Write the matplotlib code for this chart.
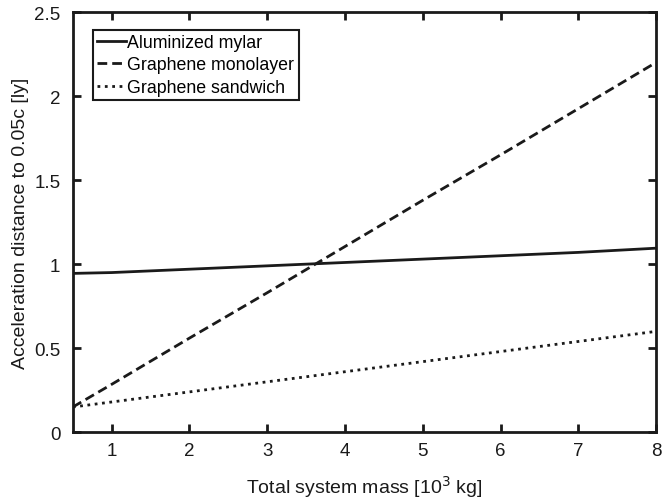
import matplotlib
matplotlib.use('Agg')
import matplotlib.pyplot as plt
import numpy as np

plt.rcParams['font.family'] = ['Liberation Sans', 'DejaVu Sans']

# masse totale [10^3 kg]
mass = [0.5, 1, 2, 3, 4, 5, 6, 7, 8]
mylar = [0.945, 0.95, 0.97, 0.99, 1.01, 1.03, 1.05, 1.07, 1.095]
mono = [0.15, 0.285, 0.56, 0.83, 1.105, 1.38, 1.65, 1.925, 2.2]
sandwich = [0.15, 0.18, 0.24, 0.30, 0.36, 0.42, 0.48, 0.54, 0.60]

xticks = [1, 2, 3, 4, 5, 6, 7, 8]
yticks = [0, 0.5, 1, 1.5, 2, 2.5]
ytick_labels = ['0', '0.5', '1', '1.5', '2', '2.5']

fig = plt.figure(figsize=(6.62, 5.02), dpi=100)
ax = fig.add_axes([0.110, 0.137, 0.881, 0.837])

ax.plot(mass, mylar, '-', color='#1a1a1a', linewidth=2, label='Aluminized mylar')
ax.plot(mass, mono, '--', color='#1a1a1a', linewidth=2, dashes=(3.5, 1.8), label='Graphene monolayer')
ax.plot(mass, sandwich, ':', color='#1a1a1a', linewidth=2, label='Graphene sandwich')

ax.set_xlim(0.5, 8)
ax.set_ylim(0, 2.5)
ax.set_xticks(xticks)
ax.set_yticks(yticks)
ax.set_yticklabels(ytick_labels)
ax.tick_params(direction='in', length=6, width=2, labelsize=13.5,
               top=True, right=True, colors='#1a1a1a')
ax.tick_params(axis='x', pad=7)
ax.tick_params(axis='y', pad=9)
for s in ax.spines.values():
    s.set_linewidth(2)
    s.set_color('#1a1a1a')

ax.set_xlabel('Total system mass [10$^3$ kg]', fontsize=14, color='#1a1a1a', labelpad=10)
ax.set_ylabel('Acceleration distance to 0.05c [ly]', fontsize=14, color='#1a1a1a', labelpad=4)

leg = ax.legend(loc='upper left', bbox_to_anchor=(0.034, 0.958), fontsize=12.8,
                handlelength=1.6, handletextpad=0.1, borderpad=0.25,
                labelspacing=0.3, borderaxespad=0, fancybox=False, framealpha=1)
leg.get_frame().set_edgecolor('#1a1a1a')
leg.get_frame().set_linewidth(1.5)

fig.savefig('out.png', dpi=100)
